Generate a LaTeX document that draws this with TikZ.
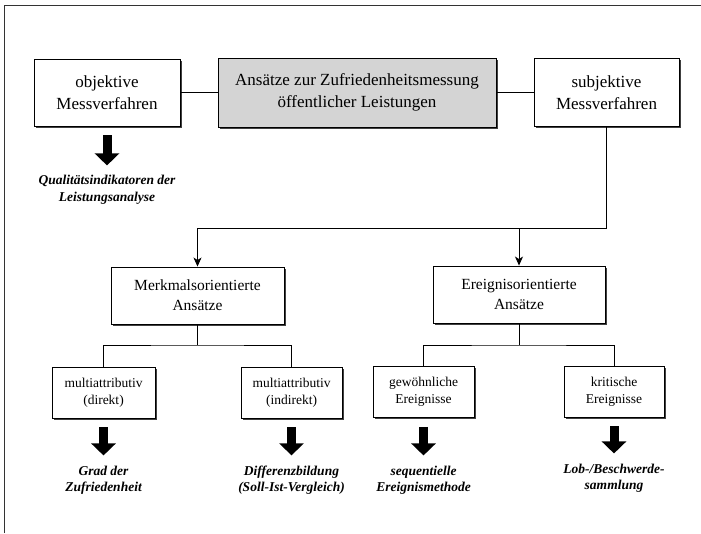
\documentclass[tikz,border=0pt]{standalone}
\usepackage{fontspec}
\setmainfont{Liberation Serif}
\usetikzlibrary{arrows.meta, positioning, shadows}
\definecolor{boxgray}{RGB}{212, 212, 212}

\begin{document}
\begin{tikzpicture}[
    x=1pt, y=-1pt,
    box/.style={rectangle, draw, line width=0.9pt, fill=white, align=center, inner sep=0pt,
        drop shadow={shadow xshift=1.5pt, shadow yshift=-1.5pt, fill=black!75, opacity=1}},
    topbox/.style={box, minimum width=146pt, minimum height=67pt, font=\fontsize{17}{22}\selectfont},
    midbox/.style={box, minimum width=173pt, minimum height=57pt, font=\fontsize{15.5}{20}\selectfont},
    lowbox/.style={box, minimum width=101pt, minimum height=51pt, font=\fontsize{13.5}{17}\selectfont},
    result/.style={align=center, inner sep=0pt, font=\fontsize{13.5}{16.5}\selectfont\bfseries\itshape},
    line/.style={line width=0.8pt},
    arrow/.style={line, -{Stealth[length=9pt, width=8pt, inset=2.5pt]}},
    bigarrow/.style={line width=9pt, -{Triangle[length=12pt, width=24pt]}, shorten <=9pt, shorten >=10pt},
    frame/.style={line width=1pt, draw=black!80}
]
    \useasboundingbox (0,0) rectangle (701,533);
    \draw[frame] (4,533) -- (4,5) -- (701,5);

    % Top row
    \node[topbox] (objektiv) at (107,92.5) {objektive\\Messverfahren};
    \node[topbox, fill=boxgray, minimum width=278pt, minimum height=69pt] (ansatz) at (357,92.5) {Ansätze zur Zufriedenheitsmessung\\öffentlicher Leistungen};
    \node[topbox, minimum width=145pt, minimum height=68pt] (subjektiv) at (606.5,92.5) {subjektive\\Messverfahren};
    \node[result] (qualitaet) at (107,190) {Qualitätsindikatoren der\\Leistungsanalyse};

    % Middle row
    \node[midbox] (merkmal) at (197.5,295.5) {Merkmalsorientierte\\Ansätze};
    \node[midbox, minimum width=172pt] (ereignis) at (519,294.5) {Ereignisorientierte\\Ansätze};

    % Bottom row
    \node[lowbox, minimum width=103pt] (direkt) at (103.5,392.5) {multiattributiv\\(direkt)};
    \node[lowbox] (indirekt) at (291.5,392.5) {multiattributiv\\(indirekt)};
    \node[lowbox] (gewoehnlich) at (423.5,392) {gewöhnliche\\Ereignisse};
    \node[lowbox, minimum width=100pt] (kritisch) at (614,391.5) {kritische\\Ereignisse};

    % Results
    \node[result] (grad) at (103.5,480) {Grad der\\Zufriedenheit};
    \node[result] (differenz) at (291.5,480) {Differenzbildung\\(Soll-Ist-Vergleich)};
    \node[result] (sequenz) at (423.5,480) {sequentielle\\Ereignismethode};
    \node[result] (lob) at (614,478) {Lob-/Beschwerde-\\sammlung};

    % Forks
    \coordinate (fork) at (subjektiv.south |- 0,228);
    \coordinate (mfork) at (merkmal.south |- 0,345);
    \coordinate (efork) at (ereignis.south |- 0,345);

    % Lines
    \draw[line] (objektiv) -- (ansatz);
    \draw[line] (ansatz) -- (subjektiv);
    \draw[line] (subjektiv) -- (fork);
    \draw[arrow] (fork) -| (merkmal.north);
    \draw[arrow] (fork -| ereignis.north) -- (ereignis.north);
    \draw[line] (merkmal) -- (mfork);
    \draw[line] (direkt.north) |- (mfork) -| (indirekt.north);
    \draw[line] (ereignis) -- (efork);
    \draw[line] (gewoehnlich.north) |- (efork) -| (kritisch.north);

    % Big arrows
    \draw[bigarrow] (objektiv) -- (qualitaet);
    \draw[bigarrow] (direkt) -- (grad);
    \draw[bigarrow] (indirekt) -- (differenz);
    \draw[bigarrow] (gewoehnlich) -- (sequenz);
    \draw[bigarrow] (kritisch) -- (lob);
\end{tikzpicture}
\end{document}
